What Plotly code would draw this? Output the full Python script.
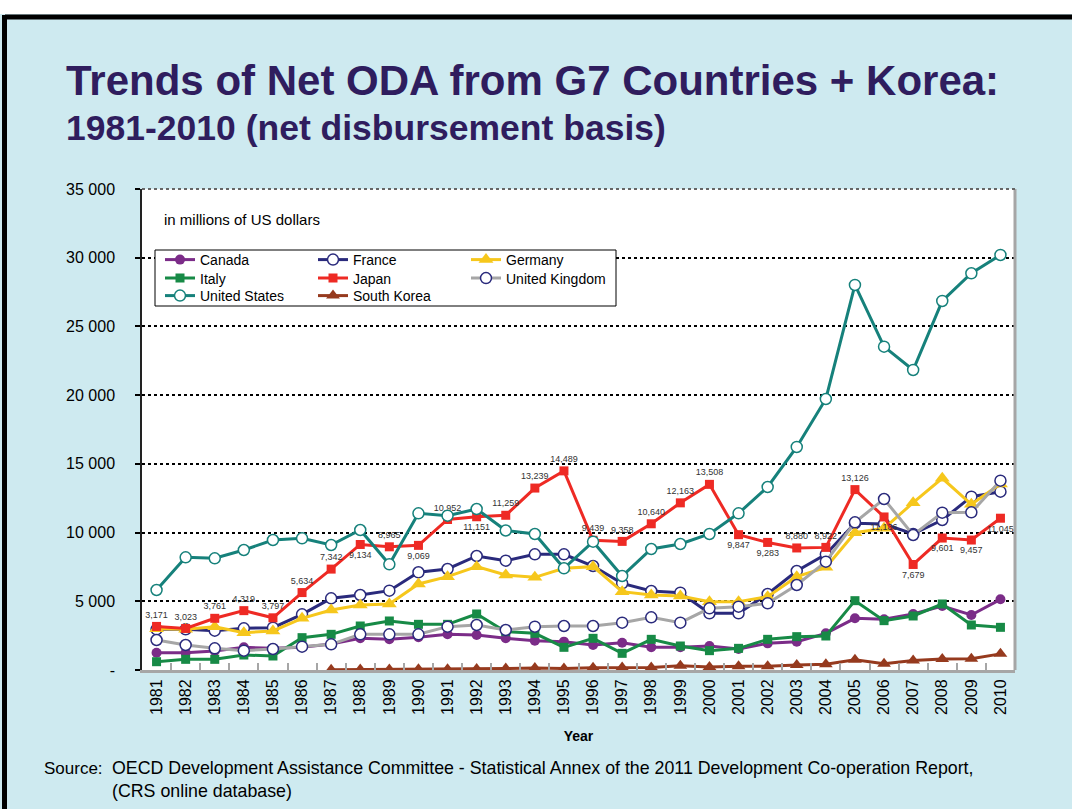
import plotly.graph_objects as go

# ---- data (net ODA, millions of US dollars) ----
years = [str(y) for y in range(1981, 2011)]

canada = [1261, 1261, 1383, 1650, 1577, 1650, 1892, 2305, 2232, 2378,
          2596, 2547, 2305, 2135, 2062, 1819, 1989, 1650, 1650, 1746,
          1528, 1940, 2062, 2668, 3760, 3686, 4075, 4657, 4002, 5142]
france = [2960, 2960, 2862, 3032, 3080, 4051, 5216, 5458, 5773, 7110,
          7350, 8296, 7956, 8418, 8418, 7568, 6306, 5749, 5628, 4123,
          4123, 5531, 7204, 8418, 10672, 10624, 9897, 10915, 12612, 12976]
germany = [3007, 2960, 3153, 2716, 2838, 3760, 4366, 4730, 4803, 6258,
           6792, 7520, 6913, 6743, 7398, 7520, 5700, 5458, 5385, 4973,
           4973, 5337, 6792, 7470, 9993, 10308, 12176, 13947, 12055, 13535]
italy = [604, 776, 776, 1091, 1019, 2353, 2596, 3202, 3566, 3323,
         3323, 4075, 2790, 2668, 1650, 2305, 1213, 2232, 1746, 1407,
         1577, 2232, 2426, 2474, 5045, 3590, 3930, 4803, 3275, 3105]
japan = [3171, 3023, 3761, 4319, 3797, 5634, 7342, 9134, 8965, 9069,
         10952, 11151, 11259, 13239, 14489, 9439, 9358, 10640, 12163, 13508,
         9847, 9283, 8880, 8922, 13126, 11136, 7679, 9601, 9457, 11045]
united_kingdom = [2183, 1819, 1577, 1407, 1528, 1698, 1868, 2596, 2596, 2596,
                  3153, 3275, 2911, 3153, 3202, 3202, 3445, 3833, 3445, 4487,
                  4608, 4851, 6185, 7883, 10745, 12442, 9824, 11449, 11473, 13776]
united_states = [5822, 8200, 8128, 8732, 9460, 9580, 9096, 10188, 7690, 11400,
                 11230, 11716, 10150, 9897, 7400, 9338, 6840, 8805, 9169, 9897,
                 11400, 13317, 16228, 19720, 28016, 23527, 21831, 26852, 28868, 30200]
korea_years = years[6:]
south_korea = [24, 30, 40, 60, 57, 77, 112, 140, 116, 159,
               186, 183, 317, 212, 265, 279, 366, 423, 752, 455,
               696, 802, 816, 1174]

# label placement for the Japan value labels
japan_label_pos = ["top center"] * 30
for yr in ("1988", "1990", "1992", "2001", "2002", "2006", "2007", "2008", "2009", "2010"):
    japan_label_pos[years.index(yr)] = "bottom center"

y_ticks = [0, 5000, 10000, 15000, 20000, 25000, 30000, 35000]
y_tick_text = ["-", "5 000", "10 000", "15 000", "20 000", "25 000", "30 000", "35 000"]

# ---- page geometry ----
W, H = 1072, 809
ML, MR, MT, MB = 142, 57, 189, 139
PW, PH = W - ML - MR, H - MT - MB


def fx(px):
    return (px - ML) / PW


def fy(py):
    return (H - MB - py) / PH


FONT = "Arial, Liberation Sans, sans-serif"
NAVY = "#2A2A7C"

# legend rows: three horizontal legends stacked inside one frame
series = [
    dict(name="Canada", y=canada, x=years, color="#7B2C88",
         marker=dict(symbol="circle", size=10, color="#7B2C88"), legend="legend"),
    dict(name="France", y=france, x=years, color=NAVY,
         marker=dict(symbol="circle", size=11, color="white", line=dict(color=NAVY, width=1.5)),
         legend="legend"),
    dict(name="Germany", y=germany, x=years, color="#F6C71C",
         marker=dict(symbol="triangle-up", size=13, color="#F6C71C"), legend="legend"),
    dict(name="Italy", y=italy, x=years, color="#178A46",
         marker=dict(symbol="square", size=9, color="#178A46"), legend="legend2"),
    dict(name="Japan", y=japan, x=years, color="#EE2A24",
         marker=dict(symbol="square", size=9, color="#EE2A24"), legend="legend2"),
    dict(name="United Kingdom", y=united_kingdom, x=years, color="#A6A6A6",
         marker=dict(symbol="circle", size=11, color="white", line=dict(color=NAVY, width=1.5)),
         legend="legend2"),
    dict(name="United States", y=united_states, x=years, color="#16817B",
         marker=dict(symbol="circle", size=11, color="white", line=dict(color="#16817B", width=1.5)),
         legend="legend3"),
    dict(name="South Korea", y=south_korea, x=korea_years, color="#963A1E",
         marker=dict(symbol="triangle-up", size=12, color="#963A1E"), legend="legend3"),
]

fig = go.Figure()
for s in series:
    kw = {}
    mode = "lines+markers"
    if s["name"] == "Japan":
        mode = "lines+markers+text"
        kw = dict(text=[f"{v:,}" for v in japan], textposition=japan_label_pos,
                  textfont=dict(size=9, color="#333333", family=FONT))
    fig.add_trace(go.Scatter(
        x=s["x"], y=s["y"], name=s["name"], mode=mode,
        line=dict(color=s["color"], width=3),
        marker=s["marker"], legend=s["legend"], cliponaxis=False, **kw))

legend_common = dict(yanchor="top", xanchor="left", bgcolor="rgba(0,0,0,0)",
                     borderwidth=0, font=dict(size=14, family=FONT, color="black"),
                     orientation="h", entrywidth=108, entrywidthmode="pixels")

fig.update_layout(
    width=W, height=H,
    margin=dict(l=ML, r=MR, t=MT, b=MB),
    paper_bgcolor="#CEEAF0",
    plot_bgcolor="white",
    font=dict(family=FONT, color="black"),
    showlegend=True,
    legend=dict(x=fx(160), y=fy(244), **legend_common),
    legend2=dict(x=fx(160), y=fy(262.5), **legend_common),
    legend3=dict(x=fx(160), y=fy(280), **legend_common),
    xaxis=dict(
        type="category", range=[-0.5, 29.5],
        showline=True, linecolor="#A6A6A6", linewidth=3,
        ticks="inside", tickson="boundaries", ticklen=7, tickcolor="#A6A6A6", tickwidth=1.5,
        tickangle=-90, tickfont=dict(size=16, family=FONT),
        showgrid=False,
        title=dict(text="<b>Year</b>", font=dict(size=14, family=FONT), standoff=18),
    ),
    yaxis=dict(
        range=[0, 35000], tickvals=y_ticks, ticktext=y_tick_text,
        showline=True, linecolor="#222222", linewidth=1.5,
        ticks="outside", ticklen=5, tickcolor="black", tickwidth=1.5,
        tickfont=dict(size=16, family=FONT), ticklabelstandoff=17,
        showgrid=True, gridcolor="black", griddash="dot", gridwidth=2,
        zeroline=False,
    ),
    shapes=[
        # legend frame
        dict(type="rect", xref="paper", yref="paper", layer="above",
             x0=fx(155), x1=fx(616), y0=fy(306), y1=fy(250),
             line=dict(color="black", width=1), fillcolor="white"),
        # right border of the plotting area
        dict(type="line", xref="paper", yref="paper", x0=1, x1=1, y0=0, y1=1,
             line=dict(color="#A6A6A6", width=3)),
        # top edge of the plotting area drawn lighter
        dict(type="line", xref="paper", yref="paper", x0=0, x1=1, y0=1, y1=1,
             line=dict(color="#666666", width=2, dash="dot")),
        # slide frame
        dict(type="rect", xref="paper", yref="paper",
             x0=fx(0), x1=fx(W), y0=fy(14), y1=fy(0),
             line=dict(width=0), fillcolor="white"),
        dict(type="line", xref="paper", yref="paper",
             x0=fx(5), x1=fx(W), y0=fy(17), y1=fy(17),
             line=dict(color="black", width=5)),
        dict(type="line", xref="paper", yref="paper",
             x0=fx(4.5), x1=fx(4.5), y0=fy(H), y1=fy(15),
             line=dict(color="black", width=5)),
    ],
    annotations=[
        dict(text="<b>Trends of Net ODA from G7 Countries + Korea:</b>",
             x=fx(64), y=fy(80), xref="paper", yref="paper", xanchor="left", yanchor="middle",
             showarrow=False, font=dict(size=42, color="#2F1D5E", family=FONT)),
        dict(text="<b>1981-2010 (net disbursement basis)</b>",
             x=fx(64), y=fy(128), xref="paper", yref="paper", xanchor="left", yanchor="middle",
             showarrow=False, font=dict(size=35.5, color="#2F1D5E", family=FONT)),
        dict(text="in millions of US dollars",
             x=fx(162), y=fy(220), xref="paper", yref="paper", xanchor="left", yanchor="middle",
             showarrow=False, font=dict(size=15, color="black", family=FONT)),
        dict(text="Source:",
             x=fx(42), y=fy(768), xref="paper", yref="paper", xanchor="left", yanchor="middle",
             showarrow=False, font=dict(size=17, color="black", family=FONT)),
        dict(text="OECD Development Assistance Committee - Statistical Annex of the 2011 "
                  "Development Co-operation Report,<br>(CRS online database)",
             x=fx(110), y=fy(756), xref="paper", yref="paper", xanchor="left", yanchor="top",
             align="left", showarrow=False, font=dict(size=17.8, color="black", family=FONT)),
    ],
)

fig.write_html("out.html")
